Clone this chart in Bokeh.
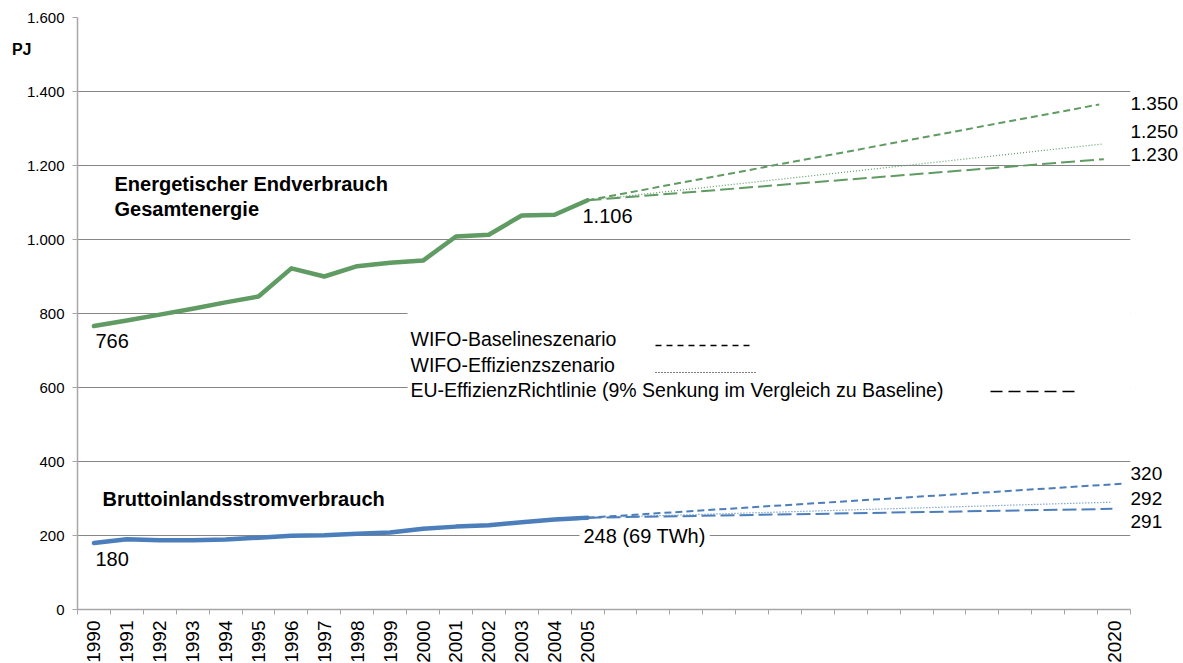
import numpy as np
from bokeh.plotting import figure
from bokeh.models import FixedTicker, Label, Range1d, LinearAxis
from bokeh.embed import file_html
from bokeh.resources import INLINE

# ---------------- data ----------------
categories = [str(y) for y in range(1990, 2006)] + [""] * 15 + ["2020"]
hist_idx = list(range(16))
energie = [766, 781, 797, 813, 830, 846, 922, 900, 928, 937, 943, 1008, 1013, 1065, 1067, 1106]
strom = [180, 190, 187, 187, 189, 194, 199, 201, 205, 208, 218, 224, 228, 236, 243, 248]

scen_names = ["WIFO-Baselineszenario", "WIFO-Effizienzszenario",
              "EU-EffizienzRichtlinie (9% Senkung im Vergleich zu Baseline)"]
# scenario lines start at 2005 and end near the 2020 slot
energie_scen_end_x = [30.55, 30.64, 30.69]
energie_scen_end = [1365, 1258, 1217]
strom_scen_end_x = [31.26, 30.90, 30.95]
strom_scen_end = [340, 290, 272]
end_labels = ["1.350", "1.250", "1.230", "320", "292", "291"]
energie_start_label = "1.106"
strom_start_label = "248 (69 TWh)"
energie_first_label = "766"
strom_first_label = "180"

y_ticks = [0, 200, 400, 600, 800, 1000, 1200, 1400, 1600]
y_tick_labels = ["0", "200", "400", "600", "800", "1.000", "1.200", "1.400", "1.600"]

# ---------------- style ----------------
GREEN = "#5F9B62"
BLUE = "#4B7EBB"
GRID = "#868686"
AXIS = "#A6A6A6"
FONT = "Liberation Sans"
dashes = ["7 4", "1 2", "14 5"]
dash_w = [2, 1.2, 2]
leg_dash = ["6 5", "1 2", "12 6"]

N = len(categories)
FRAME_W, FRAME_H = 1053, 592
LEFT, TOP = 77, 17  # frame position on the page
PX_CAT = FRAME_W / N
PX_PJ = FRAME_H / 1600.0


def px(xpage):
    return (xpage - LEFT) / PX_CAT - 0.5


def py(ypage):
    return (TOP + FRAME_H - ypage) / PX_PJ


p = figure(x_range=Range1d(-0.5, N - 0.5), y_range=Range1d(0, 1600),
           frame_width=FRAME_W, frame_height=FRAME_H,
           min_border_left=LEFT, min_border_top=TOP,
           min_border_bottom=46, min_border_right=4,
           output_backend="svg", toolbar_location=None)
p.outline_line_color = None
p.background_fill_color = "white"

# axes
xa = p.xaxis[0]
xa.ticker = FixedTicker(ticks=list(range(N)), minor_ticks=[i - 0.5 for i in range(N + 1)])
xa.major_label_overrides = {i: c for i, c in enumerate(categories)}
xa.major_tick_line_color = None
xa.major_tick_out = 0
xa.major_tick_in = 0
xa.minor_tick_line_color = AXIS
xa.minor_tick_in = 0
xa.minor_tick_out = 5
xa.axis_line_color = AXIS
xa.axis_line_width = 1.5
xa.major_label_orientation = np.pi / 2
xa.major_label_standoff = 6
xa.major_label_text_font = FONT
xa.major_label_text_font_size = "19px"
xa.major_label_text_color = "black"

ya = p.yaxis[0]
ya.ticker = FixedTicker(ticks=y_ticks, minor_ticks=[])
ya.major_label_overrides = {t: l for t, l in zip(y_ticks, y_tick_labels)}
ya.major_tick_out = 5
ya.major_tick_in = 0
ya.major_tick_line_color = AXIS
ya.axis_line_color = AXIS
ya.axis_line_width = 1.5
ya.major_label_standoff = 8
ya.major_label_text_font = FONT
ya.major_label_text_font_size = "15px"
ya.major_label_text_color = "black"

# unit label "PJ" as an outer left axis label
pj_y = round(py(49))
pj_axis = LinearAxis(ticker=FixedTicker(ticks=[pj_y], minor_ticks=[]),
                     major_label_overrides={pj_y: "PJ"},
                     axis_line_color=None, major_tick_line_color=None,
                     major_tick_out=0, major_tick_in=0, major_label_standoff=-8,
                     major_label_text_font=FONT, major_label_text_font_size="16px",
                     major_label_text_font_style="bold", major_label_text_color="black")
p.add_layout(pj_axis, "left")

# end-of-scenario value labels as a right axis (outside the plot frame)
end_label_pos = [round(py(v)) for v in [103, 131, 154, 473, 498, 521]]
end_axis = LinearAxis(ticker=FixedTicker(ticks=end_label_pos, minor_ticks=[]),
                      major_label_overrides={t: l for t, l in zip(end_label_pos, end_labels)},
                      axis_line_color=None, major_tick_line_color=None,
                      major_tick_out=0, major_tick_in=0, major_label_standoff=0,
                      major_label_text_font=FONT, major_label_text_font_size="19px",
                      major_label_text_color="black")
p.add_layout(end_axis, "right")

p.xgrid.visible = False
p.ygrid.ticker = FixedTicker(ticks=y_ticks[1:-1])
p.ygrid.grid_line_color = GRID
p.ygrid.grid_line_width = 1

# white legend area (hides gridlines behind legend text)
p.quad(left=[px(407)], right=[px(1135)], bottom=[py(398)], top=[py(305)],
       fill_color="white", line_color=None)

# historic lines
p.line(hist_idx, energie, line_color=GREEN, line_width=4.5, line_join="round", line_cap="round")
p.line(hist_idx, strom, line_color=BLUE, line_width=4.5, line_join="round", line_cap="round")

# scenario lines
for k in range(3):
    p.line([hist_idx[-1], energie_scen_end_x[k]], [energie[-1], energie_scen_end[k]],
           line_color=GREEN, line_width=dash_w[k], line_dash=dashes[k])
    p.line([hist_idx[-1], strom_scen_end_x[k]], [strom[-1], strom_scen_end[k]],
           line_color=BLUE, line_width=dash_w[k], line_dash=dashes[k])

# legend (manual: text followed by line sample)
leg_text_y = [338, 364, 389]
leg_sample = [(655, 752, 345), (655, 755, 372), (990, 1077, 391)]
for k in range(3):
    x0, x1, yy = leg_sample[k]
    p.line([px(x0), px(x1)], [py(yy), py(yy)], line_color="black",
           line_width=1.4 if k != 1 else 1.0, line_dash=leg_dash[k])
    p.add_layout(Label(x=px(410), y=py(leg_text_y[k]), text=scen_names[k],
                       text_font=FONT, text_font_size="19.5px", text_color="black",
                       text_align="left", text_baseline="middle"))


def lab(xpage, ypage, text, size="20px", bold=False, bg=None):
    kw = {}
    if bg:
        kw = dict(background_fill_color=bg, padding=4)
    p.add_layout(Label(x=px(xpage), y=py(ypage), text=text, text_font=FONT,
                       text_font_size=size, text_color="black",
                       text_font_style="bold" if bold else "normal",
                       text_align="left", text_baseline="middle", **kw))


# titles
lab(114, 183, "Energetischer Endverbrauch", bold=True)
lab(114, 208, "Gesamtenergie", bold=True)
lab(102, 498, "Bruttoinlandsstromverbrauch", bold=True)

# data labels
lab(95, 340, energie_first_label)
lab(95, 558, strom_first_label)
lab(582, 215, energie_start_label)
lab(579, 535, strom_start_label, bg="white")

open("out.html", "w").write(file_html(p, INLINE))
